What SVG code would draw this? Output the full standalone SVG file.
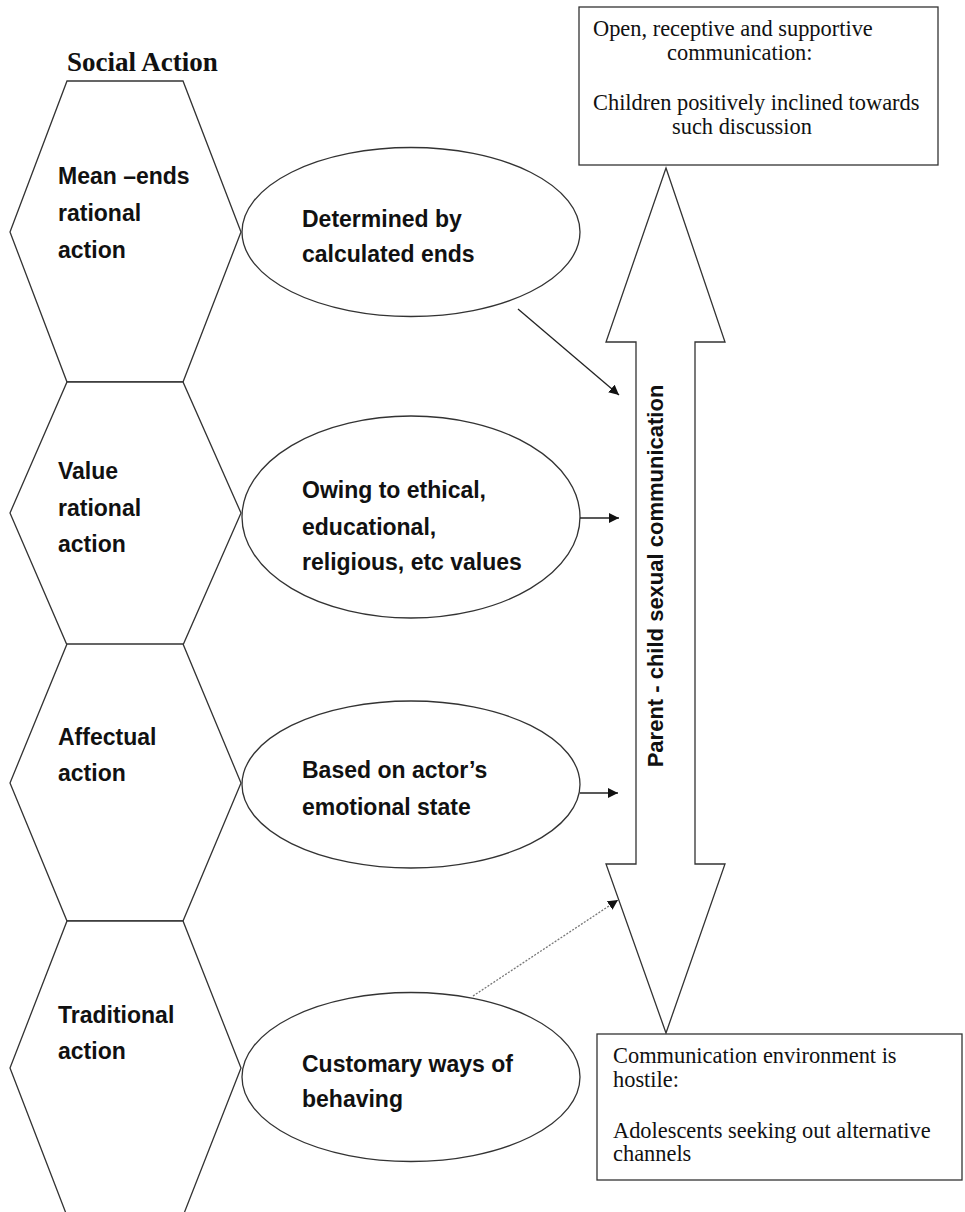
<svg xmlns="http://www.w3.org/2000/svg" width="965" height="1212" viewBox="0 0 965 1212">
<style>
.shape{fill:#fff;stroke:#333;stroke-width:1.3}
.lbl{font-family:"Liberation Sans",Arial,sans-serif;font-weight:bold;font-size:23px;fill:#111}
.ser{font-family:"Liberation Serif","Times New Roman",serif;font-size:22.4px;fill:#111}
.title{font-family:"Liberation Serif","Times New Roman",serif;font-weight:bold;font-size:27px;fill:#111}
.conn{stroke:#222;stroke-width:1.3;fill:none}
.dot{stroke:#777;stroke-width:1.3;stroke-dasharray:2 1.5;fill:none}
</style>
<defs>
<marker id="ah" viewBox="0 0 10 10" refX="10" refY="5" markerWidth="10" markerHeight="10" markerUnits="userSpaceOnUse" orient="auto">
<path d="M0,0 L10,5 L0,10 z" fill="#111"/>
</marker>
</defs>
<rect width="965" height="1212" fill="#fff"/>
<text class="title" x="67" y="71">Social Action</text>

<g id="hex1">
<polygon class="shape" points="67,81 183,81 241,232 183,382 67,382 10,232"/>
<text class="lbl" x="58" y="184">Mean –ends</text>
<text class="lbl" x="58" y="221">rational</text>
<text class="lbl" x="58" y="258">action</text>
</g>
<g id="hex2">
<polygon class="shape" points="67,382 183,382 241,513 183,645 67,645 10,513"/>
<text class="lbl" x="58" y="479">Value</text>
<text class="lbl" x="58" y="516">rational</text>
<text class="lbl" x="58" y="552">action</text>
</g>
<g id="hex3">
<polygon class="shape" points="67,644 183,644 241,783 183,921 67,921 10,783"/>
<text class="lbl" x="58" y="745">Affectual</text>
<text class="lbl" x="58" y="781">action</text>
</g>
<g id="hex4">
<polygon class="shape" points="67,921 183,921 241,1068 183,1216 67,1216 10,1068"/>
<text class="lbl" x="58" y="1023">Traditional</text>
<text class="lbl" x="58" y="1059">action</text>
</g>

<g id="ell1">
<ellipse class="shape" cx="411" cy="232" rx="169" ry="84.5"/>
<text class="lbl" x="302" y="227">Determined by</text>
<text class="lbl" x="302" y="262">calculated ends</text>
</g>
<g id="ell2">
<ellipse class="shape" cx="411" cy="517" rx="169" ry="101"/>
<text class="lbl" x="302" y="498">Owing to ethical,</text>
<text class="lbl" x="302" y="535">educational,</text>
<text class="lbl" x="302" y="570">religious, etc values</text>
</g>
<g id="ell3">
<ellipse class="shape" cx="411" cy="784.5" rx="169" ry="83.5"/>
<text class="lbl" x="302" y="778">Based on actor’s</text>
<text class="lbl" x="302" y="815">emotional state</text>
</g>
<g id="ell4">
<ellipse class="shape" cx="411" cy="1077" rx="169" ry="84.5"/>
<text class="lbl" x="302" y="1072">Customary ways of</text>
<text class="lbl" x="302" y="1107">behaving</text>
</g>

<g id="dblarrow">
<polygon class="shape" points="666,168 725,342 695,342 695,864 725,864 666,1033 606,864 636,864 636,342 606,342"/>
<text class="lbl" transform="translate(663,576) rotate(-90)" text-anchor="middle" style="font-size:22px">Parent - child sexual communication</text>
</g>

<g id="topbox">
<rect class="shape" x="579" y="7" width="359" height="158"/>
<text class="ser" x="593" y="36">Open, receptive and supportive</text>
<text class="ser" x="667" y="60">communication:</text>
<text class="ser" x="593" y="110">Children positively inclined towards</text>
<text class="ser" x="672" y="134">such discussion</text>
</g>

<g id="bottombox">
<rect class="shape" x="597" y="1034" width="365" height="146"/>
<text class="ser" x="613" y="1063">Communication environment is</text>
<text class="ser" x="613" y="1087">hostile:</text>
<text class="ser" x="613" y="1138">Adolescents seeking out alternative</text>
<text class="ser" x="613" y="1161">channels</text>
</g>

<g id="connectors">
<line class="conn" x1="518" y1="309" x2="619" y2="395" marker-end="url(#ah)"/>
<line class="conn" x1="580" y1="518" x2="619" y2="518" marker-end="url(#ah)"/>
<line class="conn" x1="580" y1="793" x2="618" y2="793" marker-end="url(#ah)"/>
<line class="dot" x1="473" y1="996" x2="618" y2="900" marker-end="url(#ah)"/>
</g>
</svg>
